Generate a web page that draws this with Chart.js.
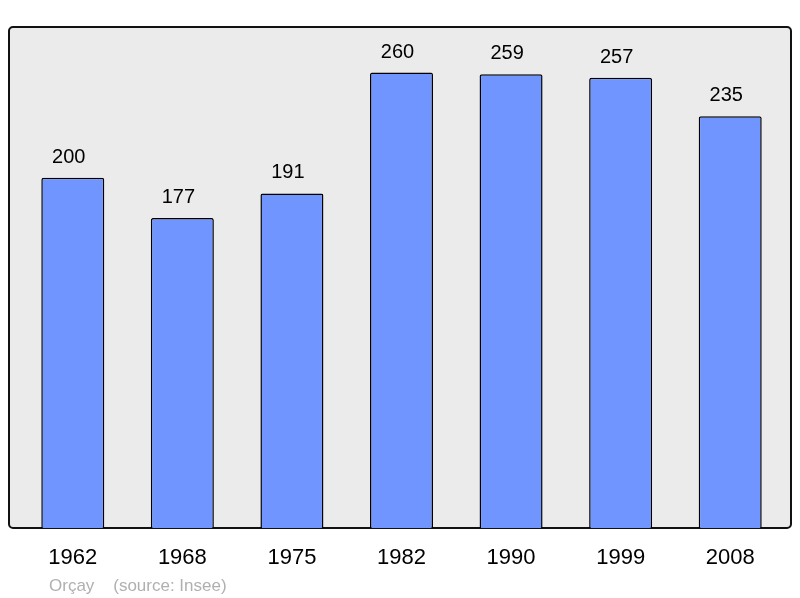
<!DOCTYPE html>
<html>
<head>
<meta charset="utf-8">
<script src="https://cdn.jsdelivr.net/npm/chart.js@4/dist/chart.umd.min.js"></script>
<style>
html,body{margin:0;padding:0;background:#fff;}
#wrap{position:relative;width:800px;height:598px;}
#footer{position:absolute;left:49px;top:576px;font-family:"Liberation Sans",Arial,sans-serif;font-size:17px;color:#b0b0b0;white-space:pre;}
</style>
</head>
<body>
<div id="wrap">
<canvas id="c" width="800" height="598"></canvas>
<div id="footer">Orçay    (source: Insee)</div>
</div>
<script>
const years = ["1962","1968","1975","1982","1990","1999","2008"];
const population = [200,177,191,260,259,257,235];

const boxPlugin = {
  id: 'box',
  beforeDraw(chart) {
    const {ctx, chartArea: a} = chart;
    const x0 = a.left - 9, x1 = a.right + 6, y0 = a.top, y1 = a.bottom;
    ctx.save();
    ctx.beginPath();
    ctx.roundRect(x0, y0, x1 - x0, y1 - y0, 4);
    ctx.fillStyle = '#ebebeb';
    ctx.fill();
    ctx.lineWidth = 2;
    ctx.strokeStyle = '#111';
    ctx.stroke();
    ctx.restore();
  }
};
const labelPlugin = {
  id: 'vals',
  afterDatasetsDraw(chart) {
    const {ctx} = chart;
    const meta = chart.getDatasetMeta(0);
    ctx.save();
    ctx.font = '20px "Liberation Sans", Arial, sans-serif';
    ctx.fillStyle = '#000';
    ctx.textAlign = 'center';
    ctx.textBaseline = 'alphabetic';
    meta.data.forEach((el, i) => {
      ctx.fillText(String(population[i]), el.x - 4, el.y - 15);
    });
    ctx.restore();
  }
};

new Chart(document.getElementById('c'), {
  type: 'bar',
  data: {
    labels: years,
    datasets: [{
      data: population,
      backgroundColor: '#7095ff',
      borderColor: '#000',
      borderWidth: 1.5,
      borderRadius: {topLeft: 2, topRight: 2},
      borderSkipped: 'bottom',
      categoryPercentage: 1,
      barPercentage: 0.575
    }]
  },
  options: {
    responsive: false,
    animation: false,
    devicePixelRatio: 1,
    layout: {padding: {left: 18, right: 15, top: 27, bottom: 17.6}},
    plugins: {legend: {display: false}, tooltip: {enabled: false}},
    scales: {
      x: {
        grid: {display: false},
        border: {display: false},
        ticks: {color: '#000', padding: 9, font: {family: '"Liberation Sans", Arial, sans-serif', size: 22}}
      },
      y: {
        display: false,
        min: 0,
        max: 286
      }
    }
  },
  plugins: [boxPlugin, labelPlugin]
});
</script>
</body>
</html>
